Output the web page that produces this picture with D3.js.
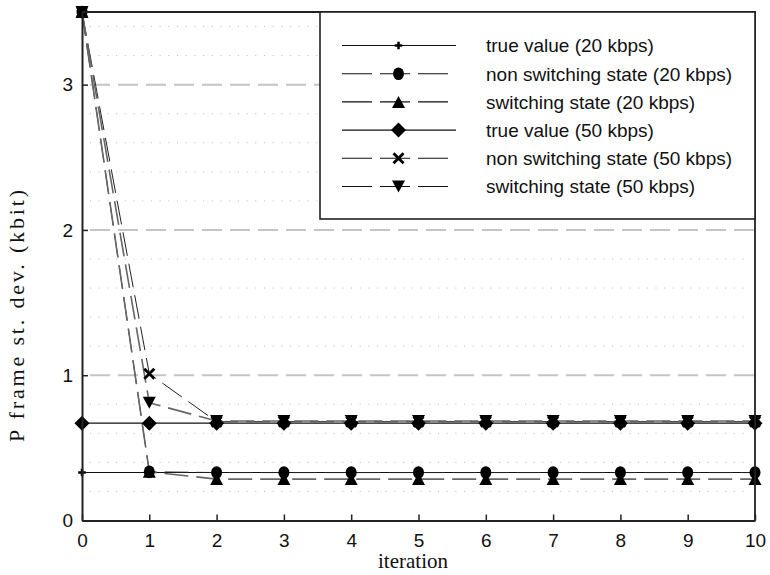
<!DOCTYPE html>
<html>
<head>
<meta charset="utf-8">
<script src="https://cdn.jsdelivr.net/npm/d3@7"></script>
<style>
  html, body { margin: 0; padding: 0; background: #fff; }
  svg { display: block; }
  .tick text { font-family: "Liberation Sans", Arial, sans-serif; font-size: 19px; fill: #111; }
</style>
</head>
<body>
<svg id="chart" width="770" height="575"></svg>
<script>
// Iterations on the x axis
const iterations = [0, 1, 2, 3, 4, 5, 6, 7, 8, 9, 10];

// P frame standard deviation (kbit) per iteration
const trueValue20      = [0.33, 0.33, 0.33, 0.33, 0.33, 0.33, 0.33, 0.33, 0.33, 0.33, 0.33];
const nonSwitching20   = [3.5, 0.335, 0.33, 0.33, 0.33, 0.33, 0.33, 0.33, 0.33, 0.33, 0.33];
const switching20      = [3.5, 0.335, 0.285, 0.285, 0.285, 0.285, 0.285, 0.285, 0.285, 0.285, 0.285];
const trueValue50      = [0.67, 0.67, 0.67, 0.67, 0.67, 0.67, 0.67, 0.67, 0.67, 0.67, 0.67];
const nonSwitching50   = [3.5, 1.01, 0.68, 0.68, 0.68, 0.68, 0.68, 0.68, 0.68, 0.68, 0.68];
const switching50      = [3.5, 0.81, 0.685, 0.685, 0.685, 0.685, 0.685, 0.685, 0.685, 0.685, 0.685];

const seriesNames = [
  "true value (20 kbps)",
  "non switching state (20 kbps)",
  "switching state (20 kbps)",
  "true value (50 kbps)",
  "non switching state (50 kbps)",
  "switching state (50 kbps)"
];

const xTicks = [0, 1, 2, 3, 4, 5, 6, 7, 8, 9, 10];
const yTicks = [0, 1, 2, 3];
const yMinorTicks = [0.2, 0.4, 0.6, 0.8, 1.2, 1.4, 1.6, 1.8, 2.2, 2.4, 2.6, 2.8, 3.2, 3.4];

// line and marker style per series
const styles = [
  { color: "#111", width: 1.1, dash: null,   marker: "plus" },
  { color: "#222", width: 1.0, dash: "24,8", marker: "circle" },
  { color: "#666", width: 1.6, dash: "24,8", marker: "triangleUp" },
  { color: "#111", width: 1.1, dash: null,   marker: "diamond" },
  { color: "#222", width: 1.0, dash: "24,8", marker: "cross" },
  { color: "#666", width: 1.6, dash: "24,8", marker: "triangleDown" }
];

const seriesValues = [trueValue20, nonSwitching20, switching20, trueValue50, nonSwitching50, switching50];

const svg = d3.select("#chart");
const x = d3.scaleLinear().domain([0, 10]).range([82, 755]);
const y = d3.scaleLinear().domain([0, 3.5]).range([520.5, 12]);

// grid: dotted minor lines and dashed major lines
const grid = svg.append("g");
grid.selectAll("line.minor").data(yMinorTicks).join("line")
  .attr("x1", x(0) + 8).attr("x2", x(10) - 6)
  .attr("y1", d => y(d)).attr("y2", d => y(d))
  .attr("stroke", "#bdbdbd").attr("stroke-width", 1)
  .attr("stroke-dasharray", "1,7.7");
grid.selectAll("line.major").data(yTicks.filter(d => d > 0)).join("line")
  .attr("x1", x(0) + 8).attr("x2", x(10))
  .attr("y1", d => y(d)).attr("y2", d => y(d))
  .attr("stroke", "#c4c4c4").attr("stroke-width", 2)
  .attr("stroke-dasharray", "20,8");

// marker drawing
function drawMarker(g, type, cx, cy) {
  if (type === "plus") {
    g.append("path").attr("d", d3.symbol(d3.symbolCross, 32)())
      .attr("transform", `translate(${cx},${cy})`).attr("fill", "#000");
  } else if (type === "circle") {
    g.append("ellipse").attr("cx", cx).attr("cy", cy).attr("rx", 5.5).attr("ry", 6.3).attr("fill", "#000");
  } else if (type === "triangleUp") {
    const h = 12, w = 13;
    g.append("path").attr("d", `M${cx},${cy - h / 2}L${cx + w / 2},${cy + h / 2}L${cx - w / 2},${cy + h / 2}Z`).attr("fill", "#000");
  } else if (type === "triangleDown") {
    const h = 12, w = 13;
    g.append("path").attr("d", `M${cx},${cy + h / 2}L${cx + w / 2},${cy - h / 2}L${cx - w / 2},${cy - h / 2}Z`).attr("fill", "#000");
  } else if (type === "diamond") {
    const r = 7.5;
    g.append("path").attr("d", `M${cx},${cy - r}L${cx + r},${cy}L${cx},${cy + r}L${cx - r},${cy}Z`).attr("fill", "#000");
  } else if (type === "cross") {
    const r = 5;
    g.append("path").attr("d", `M${cx - r},${cy - r}L${cx + r},${cy + r}M${cx - r},${cy + r}L${cx + r},${cy - r}`)
      .attr("stroke", "#000").attr("stroke-width", 2.8).attr("fill", "none");
  }
}

// series lines
const line = d3.line().x((d, i) => x(iterations[i])).y(d => y(d));
const plot = svg.append("g");
seriesValues.forEach((vals, k) => {
  const st = styles[k];
  plot.append("path").datum(vals).attr("d", line)
    .attr("fill", "none").attr("stroke", st.color).attr("stroke-width", st.width)
    .attr("stroke-dasharray", st.dash);
});
seriesValues.forEach((vals, k) => {
  const g = plot.append("g");
  vals.forEach((v, i) => drawMarker(g, styles[k].marker, x(iterations[i]), y(v)));
});

// axes
const xAxis = d3.axisBottom(x).tickValues(xTicks).tickFormat(d3.format("d"))
  .tickSizeInner(-6).tickSizeOuter(0).tickPadding(13);
const yAxis = d3.axisLeft(y).tickValues(yTicks).tickFormat(d3.format("d"))
  .tickSizeInner(-6).tickSizeOuter(0).tickPadding(9);

const gx = svg.append("g").attr("transform", `translate(0,${y(0)})`).call(xAxis);
const gy = svg.append("g").attr("transform", `translate(${x(0)},0)`).call(yAxis);
[gx, gy].forEach(g => {
  g.select(".domain").attr("stroke", "#222").attr("stroke-width", 2);
  g.selectAll(".tick line").attr("stroke", "#222").attr("stroke-width", 1.5);
});

// top and right frame
svg.append("path")
  .attr("d", `M${x(0)},${y(3.5)}H${x(10)}V${y(0)}`)
  .attr("fill", "none").attr("stroke", "#222").attr("stroke-width", 1.8);

// legend
const legend = svg.append("g");
legend.append("rect").attr("x", 320).attr("y", 12).attr("width", 435).attr("height", 207)
  .attr("fill", "#fff").attr("stroke", "#222").attr("stroke-width", 1.6);
seriesNames.forEach((name, k) => {
  const st = styles[k];
  const ry = 45.5 + k * 28.2;
  legend.append("line").attr("x1", 342).attr("x2", st.dash ? 448 : 456)
    .attr("y1", ry).attr("y2", ry)
    .attr("stroke", "#111").attr("stroke-width", 1.1)
    .attr("stroke-dasharray", st.dash ? "30,8" : null);
  drawMarker(legend, st.marker, 398.5, ry);
  legend.append("text").attr("x", 486).attr("y", ry).attr("dy", "0.36em")
    .attr("font-family", "'Liberation Sans', Arial, sans-serif").attr("font-size", 19)
    .attr("fill", "#111").text(name);
});

// axis titles
svg.append("text").attr("x", 413).attr("y", 568)
  .attr("text-anchor", "middle")
  .attr("font-family", "'Liberation Serif', 'Times New Roman', serif").attr("font-size", 21)
  .attr("fill", "#111").text("iteration");

svg.append("text")
  .attr("transform", `translate(24,316) rotate(-90)`)
  .attr("text-anchor", "middle")
  .attr("font-family", "'Liberation Serif', 'Times New Roman', serif").attr("font-size", 22)
  .attr("textLength", 252).attr("lengthAdjust", "spacing")
  .attr("fill", "#111").text("P frame st. dev. (kbit)");
</script>
</body>
</html>
